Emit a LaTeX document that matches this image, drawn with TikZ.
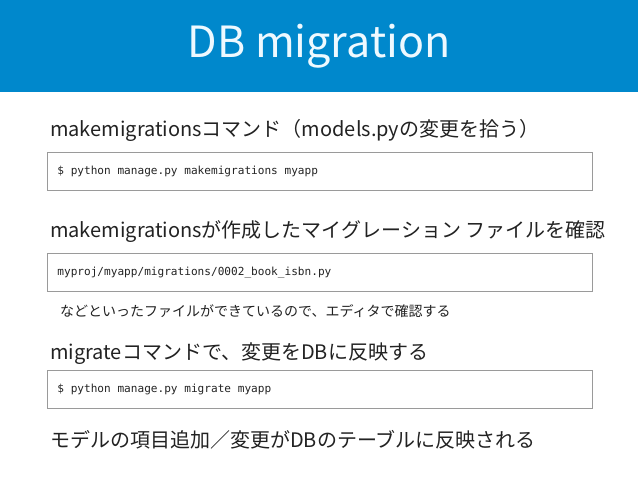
\documentclass[tikz,border=0pt]{standalone}
\usepackage{fontspec}
\setmainfont{Noto Sans CJK JP}
\newfontfamily\codefont{DejaVu Sans Mono}
\definecolor{headblue}{HTML}{0088CC}
\definecolor{titlewhite}{HTML}{EEF9FF}
\definecolor{boxgray}{HTML}{9A9A9A}
\definecolor{inkgray}{HTML}{222222}
\newcommand\csp{\hspace*{0.602em}}
\tikzset{
	heading/.style={anchor=west, inner sep=0pt, text=inkgray,
		font=\fontsize{20}{24}\selectfont},
	codebox/.style={draw=boxgray, line width=0.8pt, anchor=north west,
		minimum width=545pt, minimum height=38pt, text width=525pt,
		inner xsep=10pt, align=left, text=inkgray,
		font=\codefont\fontsize{11.1}{13}\selectfont},
	note/.style={anchor=west, inner sep=0pt, text=inkgray,
		font=\fontsize{14}{17}\selectfont}
}

\begin{document}
\begin{tikzpicture}[x=1pt, y=-1pt]
\useasboundingbox (0,0) rectangle (638,479);
\fill[headblue] (0,0) rectangle (638,92);
\node[text=titlewhite, font=\fontsize{43}{50}\selectfont] (title) at (319,46) {DB migration};
% makemigrations
\node[heading] (makehead) at (50,130) {makemigrationsコマンド（models.pyの変更を拾う）};
\node[codebox] (makecode) at (47,152) {\$\csp{}python\csp{}manage.py\csp{}makemigrations\csp{}myapp};
% migration file
\node[heading] (filehead) at (50,232) {makemigrationsが作成したマイグレーション ファイルを確認};
\node[codebox] (filecode) at (47,253) {myproj/myapp/migrations/0002\_book\_isbn.py};
\node[note] (filenote) at (60,311) {などといったファイルができているので、エディタで確認する};
% migrate
\node[heading] (migratehead) at (50,354) {migrateコマンドで、変更をDBに反映する};
\node[codebox] (migratecode) at (47,370) {\$\csp{}python\csp{}manage.py\csp{}migrate\csp{}myapp};
\node[heading] (result) at (50,440) {モデルの項目追加／変更がDBのテーブルに反映される};
\end{tikzpicture}
\end{document}
